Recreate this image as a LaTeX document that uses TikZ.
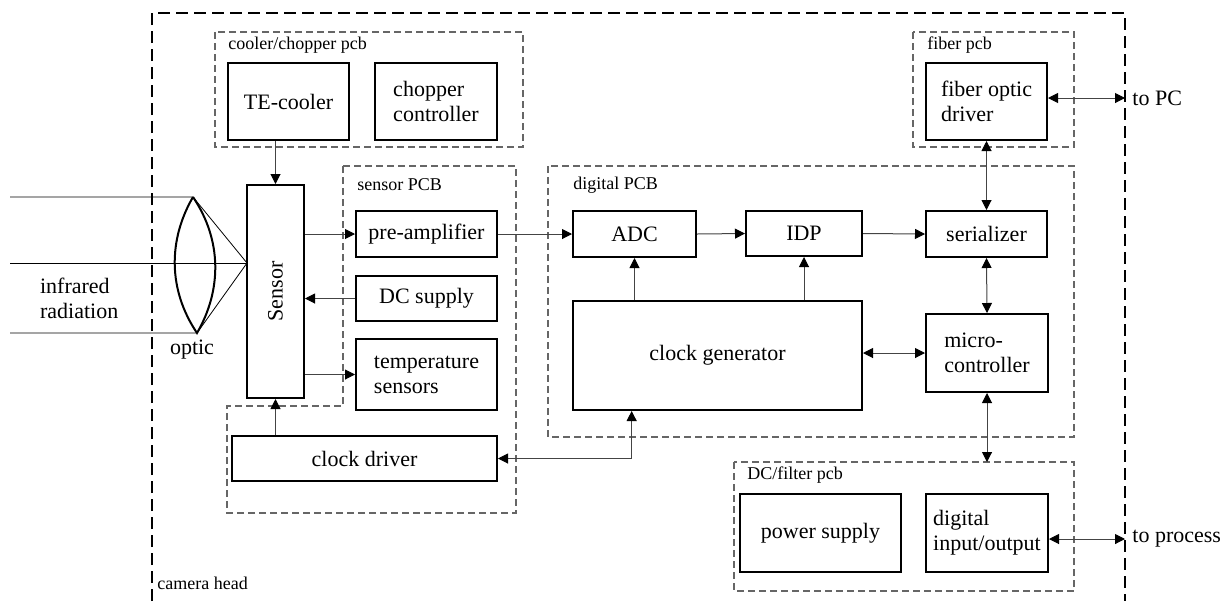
\documentclass[tikz,border=0pt]{standalone}
\usepackage{fontspec}
\setmainfont{Liberation Serif}
\usepackage{tikz}
\usetikzlibrary{arrows.meta,positioning,calc}
\definecolor{pcbgray}{HTML}{666666}
\definecolor{wiregray}{HTML}{444444}

\begin{document}
\begin{tikzpicture}[x=0.5pt,y=-0.5pt,
  every node/.style={font=\fontsize{11}{12.5}\selectfont},
  blk/.style={draw,line width=1pt,align=left,inner sep=2pt},
  pcb/.style={draw=pcbgray,line width=0.6pt,dash pattern=on 3.5pt off 2pt},
  head/.style={draw,line width=0.6pt,dash pattern=on 6pt off 3pt},
  pcblabel/.style={anchor=west,inner sep=0pt,font=\fontsize{9}{10}\selectfont},
  conn/.style={draw=wiregray,line width=0.5pt,-{Triangle[length=5pt,width=5pt,color=black]}},
  bidir/.style={conn,{Triangle[length=5pt,width=5pt,color=black]}-{Triangle[length=5pt,width=5pt,color=black]}},
  ray/.style={line width=0.4pt}]
  \useasboundingbox (0,0) rectangle (1231,601);
  % Camera head and the pcb areas
  \draw[head] (152,601) -- (152,13) -- (1125,13) -- (1125,601);
  \draw[pcb] (215,32) rectangle (523,147);
  \draw[pcb] (343,166) -- (516,166) -- (516,513) -- (227,513) -- (227,406) -- (343,406) -- cycle;
  \draw[pcb] (548,166) rectangle (1074,437);
  \draw[pcb] (913,32) rectangle (1074,147);
  \draw[pcb] (734,462) rectangle (1074,591);
  \node[pcblabel] (lblhead) at (157,583) {camera head};
  \node[pcblabel] (lblcool) at (228,45) {cooler/chopper pcb};
  \node[pcblabel] (lblsens) at (357,185) {sensor PCB};
  \node[pcblabel] (lbldig) at (573,185) {digital PCB};
  \node[pcblabel] (lblfib) at (927,45) {fiber pcb};
  \node[pcblabel] (lbldc) at (747,475) {DC/filter pcb};
  % Blocks
  \node[blk,minimum width=60.5pt,minimum height=38.5pt] (cooler) at (288.5,101.5) {TE-cooler};
  \node[blk,minimum width=61pt,minimum height=38.5pt] (chopper) at (436,101.5) {chopper\\controller};
  \node[blk,minimum width=28.5pt,minimum height=106.5pt] (sensor) at (275.5,291.5) {};
  \node[rotate=90] (sensortxt) at (sensor.center) {Sensor};
  \node[blk,minimum width=70.5pt,minimum height=23pt] (preamp) at (426.5,234) {pre-amplifier};
  \node[blk,minimum width=70.5pt,minimum height=22.5pt] (dcsup) at (426.5,298.5) {DC supply};
  \node[blk,minimum width=70.5pt,minimum height=35.5pt] (temp) at (426.5,374.5) {temperature\\sensors};
  \node[blk,minimum width=132.5pt,minimum height=22.5pt] (clkdrv) at (364.5,458.5) {clock driver};
  \node[blk,minimum width=61.5pt,minimum height=23pt] (adc) at (634.5,234) {ADC};
  \node[blk,minimum width=58pt,minimum height=22.5pt] (idp) at (804,233.5) {IDP};
  \node[blk,minimum width=60.5pt,minimum height=23pt] (serial) at (986.5,234) {serializer};
  \node[blk,minimum width=60.5pt,minimum height=38.5pt] (fiber) at (986.5,101.5) {fiber optic\\driver};
  \node[blk,minimum width=144.5pt,minimum height=54.5pt] (clkgen) at (717.5,355.5) {clock generator};
  \node[blk,minimum width=61pt,minimum height=39pt] (micro) at (987,353) {micro-\\controller};
  \node[blk,minimum width=80.5pt,minimum height=39pt] (power) at (820.5,533) {power supply};
  \node[blk,minimum width=61pt,minimum height=39pt] (dio) at (987,533) {digital\\input/output};
  % Outside world
  \node[anchor=west,inner xsep=3.5pt] (topc) at (1125,98) {to PC};
  \node[anchor=west,inner xsep=3.5pt] (toproc) at (1125,539) {to process};
  \node[align=left,anchor=west] (irlbl) at (33,298) {infrared\\radiation};
  \node (optic) at (192,350) {optic};
  % Optic and rays
  \coordinate (lenstop) at (193,197);
  \coordinate (lensbot) at (197,333);
  \coordinate (focus) at (247,263);
  \coordinate (raya) at (10,197);
  \coordinate (rayb) at (10,263);
  \coordinate (rayc) at (10,333);
  \draw[ray] (raya) -- (lenstop) -- (focus) -- (lensbot) -- (rayc);
  \draw[ray] (rayb) -- (focus);
  \draw[line width=1pt] (lenstop) .. controls (168,240) and (168,290) .. (lensbot)
    .. controls (222,290) and (222,240) .. (lenstop);
  % Connections
  \coordinate (dctop) at (987,462);
  \draw[conn] (cooler.south -| sensor.north) -- (sensor.north);
  \draw[conn] (sensor.east |- preamp.west) -- (preamp.west);
  \draw[conn] (dcsup.west) -- (dcsup.west -| sensor.east);
  \draw[conn] (temp.west -| sensor.east) -- (temp.west);
  \draw[conn] (sensor.south |- clkdrv.north) -- (sensor.south);
  \draw[conn] (preamp.east) -- (adc.west);
  \draw[conn] (adc.east) -- (idp.west);
  \draw[conn] (idp.east) -- (serial.west);
  \draw[conn] (adc.south |- clkgen.north) -- (adc.south);
  \draw[conn] (idp.south |- clkgen.north) -- (idp.south);
  \draw[bidir] (clkgen.east |- micro.west) -- (micro.west);
  \draw[bidir] (serial.south) -- (micro.north);
  \draw[bidir] (fiber.south) -- (serial.north);
  \draw[bidir] (fiber.east |- topc.west) -- (topc.west);
  \draw[bidir] (micro.south) -- (dctop);
  \draw[bidir] (dio.east |- toproc.west) -- (toproc.west);
  \draw[bidir] (clkdrv.east) -| ($(clkgen.south west)!0.205!(clkgen.south east)$);
\end{tikzpicture}
\end{document}
